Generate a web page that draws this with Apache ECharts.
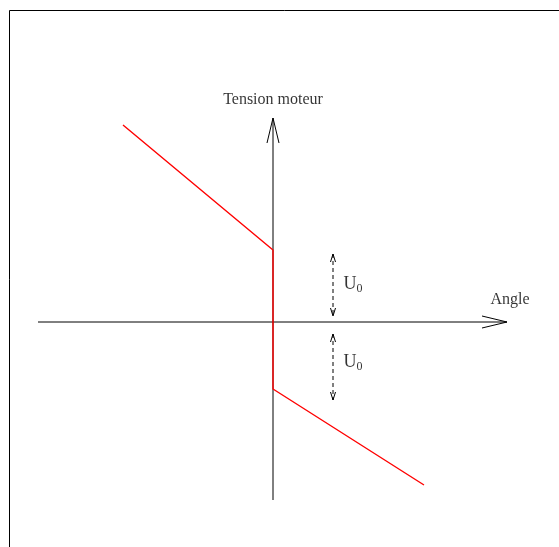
<!DOCTYPE html>
<html>
<head>
<meta charset="utf-8">
<script src="https://cdn.jsdelivr.net/npm/echarts@6/dist/echarts.min.js"></script>
<style>
html, body { margin: 0; padding: 0; background: #fff; }
#main { width: 559px; height: 547px; }
</style>
</head>
<body>
<div id="main"></div>
<script>
// courbe tension moteur (angle, tension)
var tension = [[-3.0, 3.94], [0, 1.44], [0, -1.34], [3.02, -3.26]];
// axes [x1, y1, x2, y2]
var axes = [[-4.7, 0, 4.68, 0], [0, -3.56, 0, 4.08]];
// fleches U0 en pointilles
var u0Arrows = [[1.2, 1.36, 1.2, 0.12], [1.2, -0.24, 1.2, -1.56]];
// textes
var labels = [
    {value: [0, 4.44], name: 'Tension moteur'},
    {value: [4.74, 0.44], name: 'Angle'},
    {value: [1.6, 0.76], name: 'U0'},
    {value: [1.6, -0.8], name: 'U0'}
];

var dom = document.getElementById('main');
var myChart = echarts.init(dom);

function arrowRender(headLen, headHalf, both, dashed) {
    return function (params, api) {
        var p1 = api.coord([api.value(0), api.value(1)]);
        var p2 = api.coord([api.value(2), api.value(3)]);
        var dx = p2[0] - p1[0], dy = p2[1] - p1[1];
        var len = Math.sqrt(dx * dx + dy * dy);
        var ux = dx / len, uy = dy / len;
        var nx = -uy, ny = ux;
        function head(tip, sx, sy) {
            return {
                type: 'polyline',
                shape: {points: [
                    [tip[0] - sx * headLen + nx * headHalf, tip[1] - sy * headLen + ny * headHalf],
                    tip,
                    [tip[0] - sx * headLen - nx * headHalf, tip[1] - sy * headLen - ny * headHalf]
                ]},
                style: {stroke: '#000', lineWidth: 1, fill: null}
            };
        }
        var children = [{
            type: 'line',
            shape: {x1: p1[0], y1: p1[1], x2: p2[0], y2: p2[1]},
            style: {stroke: '#000', lineWidth: 1, lineDash: dashed ? [4, 3] : null}
        }, head(p2, ux, uy)];
        if (both) children.push(head(p1, -ux, -uy));
        return {type: 'group', children: children};
    };
}

option = {
    animation: false,
    backgroundColor: '#fff',
    grid: {left: 0, right: 0, top: 0, bottom: 0},
    xAxis: {type: 'value', min: -5.46, max: 5.72, show: false},
    yAxis: {type: 'value', min: -4.5, max: 6.44, show: false},
    graphic: [{
        type: 'rect',
        shape: {x: 9.5, y: 10.5, width: 600, height: 600},
        style: {fill: null, stroke: '#000', lineWidth: 1}
    }],
    series: [
        {
            type: 'custom',
            renderItem: arrowRender(25, 6, false, false),
            data: axes,
            silent: true
        },
        {
            type: 'custom',
            renderItem: arrowRender(8, 2.5, true, true),
            data: u0Arrows,
            silent: true
        },
        {
            type: 'line',
            data: tension,
            symbol: 'none',
            lineStyle: {color: '#ff0000', width: 1.4},
            silent: true
        },
        {
            type: 'scatter',
            data: labels,
            symbolSize: 0,
            silent: true,
            label: {
                show: true,
                position: 'inside',
                color: '#000',
                textBorderWidth: 0,
                fontFamily: 'Liberation Serif',
                fontSize: 16,
                formatter: function (p) {
                    if (p.name === 'U0') return '{u|U}{s|0}';
                    return p.name;
                },
                rich: {
                    u: {fontFamily: 'Liberation Serif', fontSize: 18, color: '#000', textBorderWidth: 0},
                    s: {fontFamily: 'Liberation Serif', fontSize: 12, color: '#000', textBorderWidth: 0, padding: [9, 0, 0, 0]}
                }
            }
        }
    ]
};

if (option && typeof option === "object") {
    myChart.setOption(option, true);
}

window.addEventListener("resize", function () {
    myChart.resize();
});
</script>
</body>
</html>
